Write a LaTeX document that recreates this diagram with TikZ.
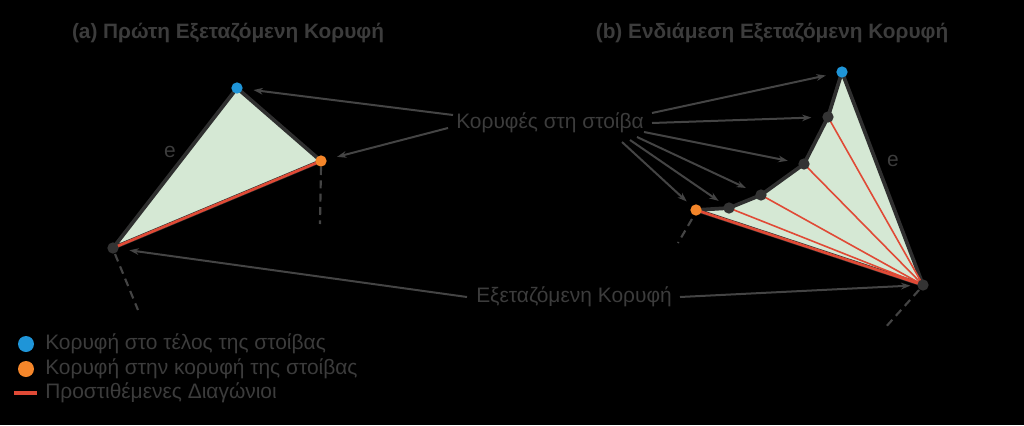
\documentclass[tikz,border=0pt]{standalone}
\usepackage{fontspec}
\setmainfont{Liberation Sans}
\usetikzlibrary{arrows.meta}
\definecolor{txt}{HTML}{3C3C3C}
\definecolor{arrc}{HTML}{444444}
\definecolor{edgec}{HTML}{2F2F2F}
\definecolor{fillc}{HTML}{D5E8D4}
\definecolor{redc}{HTML}{E04A36}
\definecolor{bluec}{HTML}{1F95D8}
\definecolor{orangec}{HTML}{F5862A}
\definecolor{dotc}{HTML}{333333}
\tikzset{
  lab/.style={text=txt,font=\fontsize{15.7}{18}\selectfont,inner sep=0pt},
  ttl/.style={text=txt,font=\fontsize{15.6}{18}\selectfont\bfseries,inner sep=0pt},
  vdot/.style={circle,fill=dotc,minimum size=8.5pt,inner sep=0pt},
  bdot/.style={circle,fill=bluec,minimum size=8.5pt,inner sep=0pt},
  odot/.style={circle,fill=orangec,minimum size=8.5pt,inner sep=0pt},
  arr/.style={draw=arrc,line width=1.5pt,-{Stealth[length=7pt,width=5pt]},shorten >=3pt},
  outline/.style={draw=edgec,line width=2.8pt,line join=round,fill=fillc},
  diag/.style={draw=redc,line width=1.2pt},
  bdiag/.style={draw=redc,line width=2pt},
  dsh/.style={draw=arrc,line width=1.6pt,dash pattern=on 6pt off 4pt},
}
\begin{document}
\begin{tikzpicture}[x=0.75pt,y=-0.75pt]
\fill[black] (0,0) rectangle (1024,425);
\useasboundingbox (0,0) rectangle (1024,425);

% titles
\node[ttl] (ta) at (228,33) {(a) Πρώτη Εξεταζόμενη Κορυφή};
\node[ttl] (tb) at (772,33) {(b) Ενδιάμεση Εξεταζόμενη Κορυφή};

% panel (a)
\coordinate (a1) at (237,88);
\coordinate (a2) at (321,161);
\coordinate (a3) at (113,248);
\draw[outline] (a1) -- (a2) -- (a3) -- cycle;
\draw[bdiag] (a2) -- (a3);
\coordinate (a2d) at (320,224);
\coordinate (a3d) at (138,310);
\draw[dsh] (a2) ++(0,6) -- (a2d);
\draw[dsh] (a3) ++(2,6) -- (a3d);
\node[bdot] (A1) at (a1) {};
\node[odot] (A2) at (a2) {};
\node[vdot] (A3) at (a3) {};
\node[lab] (ea) at (170,152) {e};

% panel (b)
\coordinate (b0) at (842,72);
\coordinate (b1) at (828,117);
\coordinate (b2) at (804,164);
\coordinate (b3) at (761,195);
\coordinate (b4) at (729,208);
\coordinate (b5) at (696,210);
\coordinate (bv) at (923,285);
\draw[outline] (b0) -- (b1) -- (b2) -- (b3) -- (b4) -- (b5) -- (bv) -- cycle;
\draw[diag] (b1) -- (bv);
\draw[diag] (b2) -- (bv);
\draw[diag] (b3) -- (bv);
\draw[diag] (b4) -- (bv);
\draw[bdiag] (b5) -- (bv);
\coordinate (b5d) at (678,243);
\coordinate (bvd) at (884,329);
\draw[dsh] (b5) ++(-4,9) -- (b5d);
\draw[dsh] (bv) ++(-4,5) -- (bvd);
\node[bdot] (B0) at (b0) {};
\node[vdot] (B1) at (b1) {};
\node[vdot] (B2) at (b2) {};
\node[vdot] (B3) at (b3) {};
\node[vdot] (B4) at (b4) {};
\node[odot] (B5) at (b5) {};
\node[vdot] (BV) at (bv) {};
\node[lab] (eb) at (893,161) {e};

% labels
\node[lab] (ks) at (550,123) {Κορυφές στη στοίβα};
\node[lab] (ek) at (574,297) {Εξεταζόμενη Κορυφή};

\coordinate (k1) at (453,115);
\coordinate (k2) at (448,128);
\coordinate (k3) at (652,113);
\coordinate (k4) at (652,123);
\coordinate (k5) at (644,132);
\coordinate (k6) at (637,137);
\coordinate (k7) at (630,140);
\coordinate (k8) at (622,142);
\draw[arr,shorten >=8pt] (k1) -- (A1);
\draw[arr,shorten >=8pt] (k2) -- (A2);
\draw[arr,shorten >=8pt] (k3) -- (B0);
\draw[arr,shorten >=8pt] (k4) -- (B1);
\draw[arr,shorten >=8pt] (k5) -- (B2);
\draw[arr,shorten >=8pt] (k6) -- (B3);
\draw[arr,shorten >=5pt] (k7) -- (B4);
\draw[arr,shorten >=5pt] (k8) -- (B5);

\coordinate (e1) at (467,297);
\coordinate (e2) at (680,297);
\draw[arr,shorten >=8pt] (e1) -- (A3);
\draw[arr,shorten >=5pt] (e2) -- (BV);

% legend
\node[bdot,minimum size=12pt] (lb) at (26,344) {};
\node[odot,minimum size=12pt] (lo) at (26,369) {};
\coordinate (lr1) at (14,393);
\coordinate (lr2) at (37,393);
\draw[draw=redc,line width=3pt] (lr1) -- (lr2);
\node[lab,anchor=west] (t1) at (45,344) {Κορυφή στο τέλος της στοίβας};
\node[lab,anchor=west] (t2) at (45,369) {Κορυφή στην κορυφή της στοίβας};
\node[lab,anchor=west] (t3) at (45,393) {Προστιθέμενες Διαγώνιοι};
\end{tikzpicture}
\end{document}
